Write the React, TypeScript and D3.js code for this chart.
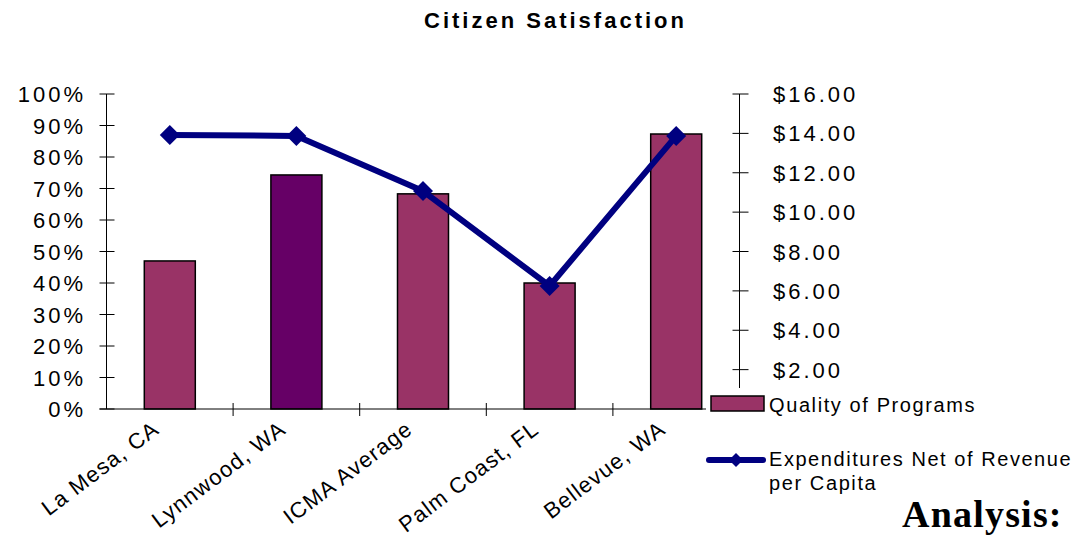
import React from "react";
import * as d3 from "d3";

const categories = ["La Mesa, CA", "Lynnwood, WA", "ICMA Average", "Palm Coast, FL", "Bellevue, WA"];
const quality = [0.47, 0.743, 0.683, 0.40, 0.873];
const expenditures = [13.92, 13.87, 11.07, 6.25, 13.87];
const barColors = ["#993366", "#660066", "#993366", "#993366", "#993366"];
const leftTicks = [0, 0.1, 0.2, 0.3, 0.4, 0.5, 0.6, 0.7, 0.8, 0.9, 1.0];
const rightTicks = [2, 4, 6, 8, 10, 12, 14, 16];

const W = 1076, H = 539;
const x0 = 106.5, x1 = 739.5, yTop = 94, yBot = 409;

export default function App() {
  const x = d3.scaleBand<string>().domain(categories).range([x0, x1]).paddingInner(0).paddingOuter(0);
  const yL = d3.scaleLinear().domain([0, 1]).range([yBot, yTop]);
  const yR = d3.scaleLinear().domain([0, 16]).range([yBot, yTop]);
  const barW = 51;
  const line = d3.line<number>().x((_, i) => (x(categories[i]) as number) + x.bandwidth() / 2).y((d) => yR(d));
  const font = "Arial, 'Liberation Sans', Helvetica, sans-serif";
  const diamond = (cx: number, cy: number, r = 8) => `M${cx},${cy - r}L${cx + r},${cy}L${cx},${cy + r}L${cx - r},${cy}Z`;
  const ls = 3;
  return (
    <svg width={W} height={H} style={{ position: "absolute", left: 0, top: 0, background: "#fff" }} fontFamily={font}>
      <rect width={W} height={H} fill="#fff" />
      <text x={554 + 1.5} y={28} textAnchor="middle" fontSize={22} fontWeight="bold" letterSpacing={3}>Citizen Satisfaction</text>
      {/* bars */}
      {quality.map((v, i) => (
        <rect key={i} x={(x(categories[i]) as number) + x.bandwidth() / 2 - barW / 2} y={yL(v)} width={barW} height={yBot - yL(v)} fill={barColors[i]} stroke="#000" strokeWidth={1.5} />
      ))}
      {/* left axis */}
      <line x1={x0} x2={x0} y1={yTop} y2={yBot} stroke="#000" strokeWidth={1} />
      {leftTicks.map((t) => (
        <g key={t}>
          <line x1={x0 - 7} x2={x0 + 8} y1={yL(t)} y2={yL(t)} stroke="#000" />
          <text x={83 + ls} y={yL(t) + 8} textAnchor="end" fontSize={22} letterSpacing={ls}>{d3.format(".0%")(t)}</text>
        </g>
      ))}
      {/* x axis */}
      <line x1={x0 - 7} x2={x1} y1={yBot} y2={yBot} stroke="#000" />
      {categories.map((c, i) => (
        <g key={c}>
          {i > 0 && <line x1={x(c) as number} x2={x(c) as number} y1={yBot - 6} y2={yBot + 7} stroke="#000" />}
          <text transform={`translate(${(x(c) as number) + x.bandwidth() / 2 - 9},${yBot + 23}) rotate(-37)`} textAnchor="end" fontSize={22} letterSpacing={1.2}>{c}</text>
        </g>
      ))}
      {/* right axis */}
      <line x1={x1} x2={x1} y1={yTop} y2={yBot} stroke="#000" />
      {rightTicks.map((t) => (
        <g key={t}>
          <line x1={x1 - 7} x2={x1 + 9} y1={yR(t)} y2={yR(t)} stroke="#000" />
          <text x={773} y={yR(t) + 8} fontSize={22} letterSpacing={ls}>{d3.format("$.2f")(t)}</text>
        </g>
      ))}
      {/* line series */}
      <path d={line(expenditures) as string} fill="none" stroke="#000080" strokeWidth={6} strokeLinejoin="round" />
      {expenditures.map((v, i) => (
        <path key={i} d={diamond((x(categories[i]) as number) + x.bandwidth() / 2, yR(v), 10)} fill="#000080" />
      ))}
      {/* legend */}
      <rect x={706} y={388} width={370} height={112} fill="#fff" />
      <rect x={711} y={396} width={53} height={15} fill="#993366" stroke="#000" strokeWidth={1.5} />
      <text x={769} y={412} fontSize={20} letterSpacing={1.6}>Quality of Programs</text>
      <line x1={709} x2={763} y1={460} y2={460} stroke="#000080" strokeWidth={6} strokeLinecap="round" />
      <path d={diamond(736, 460, 7)} fill="#000080" />
      <text x={769} y={466} fontSize={20} letterSpacing={1.55}>Expenditures Net of Revenue</text>
      <text x={769} y={490} fontSize={20} letterSpacing={1.6}>per Capita</text>
      <text x={902} y={527} fontSize={38} fontWeight="bold" letterSpacing={1.2} fontFamily="'Liberation Serif', 'Times New Roman', serif">Analysis:</text>
    </svg>
  );
}
